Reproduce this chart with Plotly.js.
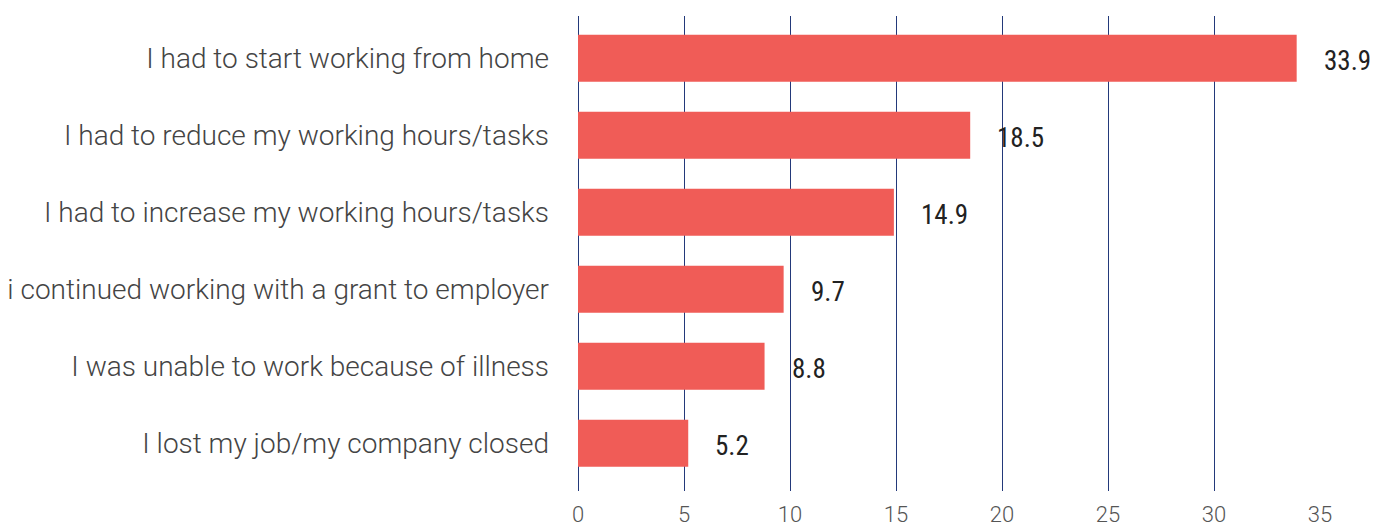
<!DOCTYPE html>
<html>
<head>
<meta charset="utf-8">
<script src="https://cdn.plot.ly/plotly-3.0.1.min.js"></script>
<style>html,body{margin:0;padding:0;background:#fff;}#chart{width:1392px;height:526px;}</style>
</head>
<body>
<div id="chart"></div>
<script>
// Bottom-to-top order
const categories = [
  "I lost my job/my company closed",
  "I was unable to work because of illness",
  "i continued working with a grant to employer",
  "I had to increase my working hours/tasks",
  "I had to reduce my working hours/tasks",
  "I had to start working from home"
];
const values = [5.2, 8.8, 9.7, 14.9, 18.5, 33.9];
const xTicks = [0, 5, 10, 15, 20, 25, 30, 35];

const trace = {
  type: "bar",
  orientation: "h",
  x: values,
  y: categories,
  marker: {color: "#F05C57"},
  hoverinfo: "none"
};

const annotations = values.map((v, i) => ({
  x: v, y: categories[i], xref: "x", yref: "y",
  text: v.toFixed(1), showarrow: false,
  xanchor: "left", yanchor: "middle", xshift: 25, yshift: -3,
  font: {family: "Roboto Condensed, Liberation Sans Narrow, Roboto", size: 27, color: "#222"}
}));

const layout = {
  width: 1392, height: 526,
  margin: {l: 578, r: 72, t: 16, b: 35},
  paper_bgcolor: "#fff", plot_bgcolor: "#fff",
  showlegend: false,
  bargap: 0.39,
  xaxis: {
    range: [0, 35], tickvals: xTicks, ticktext: xTicks.map(String),
    showgrid: true, gridcolor: "#23397a", gridwidth: 1,
    zeroline: true, zerolinecolor: "#23397a", zerolinewidth: 1,
    showline: false, ticks: "",
    ticklabelstandoff: 8,
    tickfont: {family: "Roboto", size: 22, color: "#555", weight: 300}
  },
  yaxis: {
    type: "category",
    range: [-0.62, 5.55],
    showgrid: false, zeroline: false, showline: false, ticks: "",
    ticklabelstandoff: 28,
    tickfont: {family: "Roboto", size: 28, color: "#444", weight: 300}
  },
  annotations: annotations
};

Plotly.newPlot("chart", [trace], layout, {staticPlot: true, displayModeBar: false});
</script>
</body>
</html>
